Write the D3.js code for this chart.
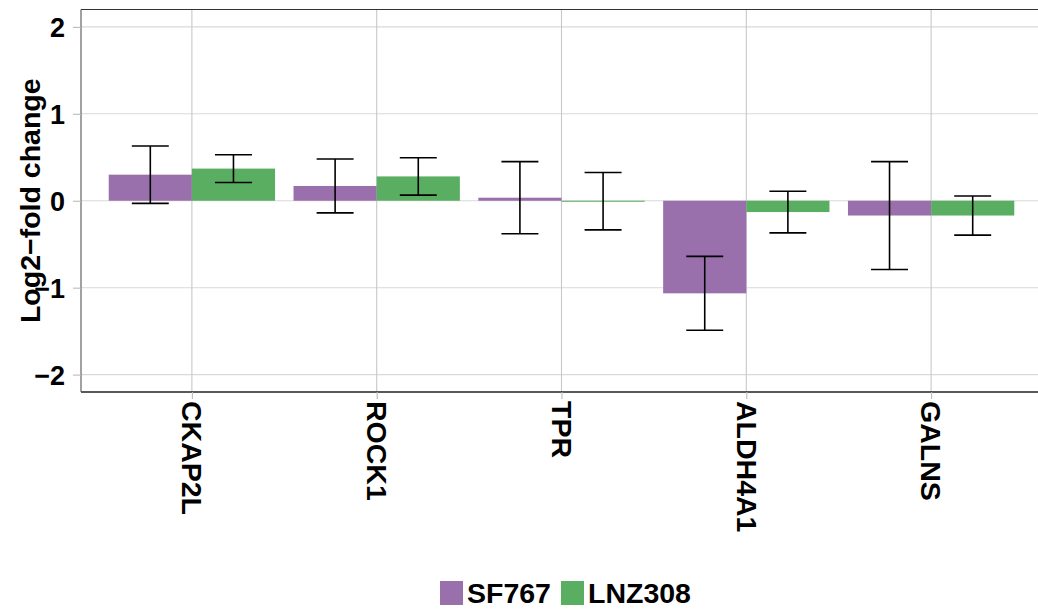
<!DOCTYPE html>
<html>
<head>
<meta charset="utf-8">
<script src="https://cdnjs.cloudflare.com/ajax/libs/d3/7.8.5/d3.min.js"></script>
<style>
body{margin:0;background:#fff;}
text{font-family:"Liberation Sans",Arial,sans-serif;font-weight:bold;fill:#000;}
</style>
</head>
<body>
<svg id="chart" width="1038" height="609"></svg>
<script>
var genes = ["CKAP2L","ROCK1","TPR","ALDH4A1","GALNS"];
var lines = ["SF767","LNZ308"];
var sf767 = [0.30, 0.17, 0.035, -1.065, -0.17];
var sf767err = [0.33, 0.31, 0.415, 0.425, 0.62];
var lnz308 = [0.37, 0.28, -0.005, -0.13, -0.17];
var lnz308err = [0.16, 0.215, 0.33, 0.24, 0.225];
var yticks = [-2,-1,0,1,2];
var cols = ["#9970AB","#5AAE61"];

var svg = d3.select("#chart");
var pLeft = 81, pRight = 1042, pTop = 9.5, pBottom = 392;

// discrete axis with 0.6 expansion like ggplot
var step = (pRight-pLeft)/(genes.length-1+1.2);
var x = d3.scalePoint().domain(genes).range([pLeft+0.6*step, pRight-0.6*step]);
var y = d3.scaleLinear().domain([-2.2,2.2]).range([pBottom,pTop]);

var dodge = 0.9*step, bw = dodge/2;

var data = [];
genes.forEach(function(g,i){
	data.push({gene:g, s:0, v:sf767[i], e:sf767err[i]});
	data.push({gene:g, s:1, v:lnz308[i], e:lnz308err[i]});
});
function cx(d){return x(d.gene) - dodge/2 + bw*d.s + bw/2;}

var grid = svg.append("g");
grid.selectAll("line.h").data(yticks).enter().append("line")
	.attr("x1",pLeft).attr("x2",1038).attr("y1",function(d){return y(d)}).attr("y2",function(d){return y(d)})
	.attr("stroke","#d9d9d9").attr("stroke-width",1.1);
grid.selectAll("line.v").data(genes).enter().append("line")
	.attr("x1",function(d){return x(d)}).attr("x2",function(d){return x(d)}).attr("y1",pTop).attr("y2",pBottom)
	.attr("stroke","#c8c8c8").attr("stroke-width",1.1);

//bars
svg.append("g").selectAll("rect").data(data).enter().append("rect")
	.attr("x",function(d){return cx(d)-bw/2})
	.attr("width",bw)
	.attr("y",function(d){return y(Math.max(0,d.v))})
	.attr("height",function(d){return Math.max(1,Math.abs(y(d.v)-y(0)))})
	.attr("fill",function(d){return cols[d.s]});

//error bars
var eb = svg.append("g").attr("stroke","#000").attr("stroke-width",1.6);
var cap = 0.2*step/2;
data.forEach(function(d){
	var c = cx(d);
	eb.append("line").attr("x1",c).attr("x2",c).attr("y1",y(d.v+d.e)).attr("y2",y(d.v-d.e));
	eb.append("line").attr("x1",c-cap).attr("x2",c+cap).attr("y1",y(d.v+d.e)).attr("y2",y(d.v+d.e));
	eb.append("line").attr("x1",c-cap).attr("x2",c+cap).attr("y1",y(d.v-d.e)).attr("y2",y(d.v-d.e));
});

//panel border
svg.append("line").attr("x1",pLeft).attr("x2",1038).attr("y1",pTop).attr("y2",pTop).attr("stroke","#333").attr("stroke-width",1.1);
svg.append("line").attr("x1",pLeft).attr("x2",1038).attr("y1",pBottom).attr("y2",pBottom).attr("stroke","#222").attr("stroke-width",1.3);
svg.append("line").attr("x1",pLeft).attr("x2",pLeft).attr("y1",pTop).attr("y2",pBottom).attr("stroke","#555").attr("stroke-width",1.1);

//y axis
var ya = svg.append("g").attr("transform","translate("+pLeft+",0)")
	.call(d3.axisLeft(y).tickValues(yticks).tickSize(8).tickPadding(8).tickFormat(function(d){return d<0 ? "\u2212"+Math.abs(d) : d}));
ya.select(".domain").remove();
ya.selectAll(".tick line").attr("stroke","#bbb").attr("stroke-width",1.1);
ya.selectAll(".tick text").style("font-size","27px").attr("dy","0.36em");

//x axis
var xa = svg.append("g").attr("transform","translate(0,"+pBottom+")")
	.call(d3.axisBottom(x).tickSize(7).tickPadding(0));
xa.select(".domain").remove();
xa.selectAll(".tick line").attr("stroke","#bbb").attr("stroke-width",1.1);
xa.selectAll(".tick text").style("font-size","28.5px")
	.attr("transform","rotate(90)").attr("text-anchor","start")
	.attr("x",9).attr("y",0).attr("dy","0.36em");

//y title
svg.append("text").attr("transform","translate(39.5,"+((pTop+pBottom)/2)+") rotate(-90)")
	.attr("text-anchor","middle").style("font-size","28.5px").text("Log2\u2212fold change");

//legend
var lg = svg.append("g").attr("transform","translate(440,581)");
var lx = 0;
lines.forEach(function(l,i){
	lg.append("rect").attr("x",lx).attr("y",0).attr("width",23).attr("height",24).attr("fill",cols[i]);
	var t = lg.append("text").attr("x",lx+27).attr("y",12).attr("dy","0.36em").style("font-size","28.5px").text(l);
	lx += 27 + t.node().getComputedTextLength() + 10;
});
</script>
</body>
</html>
